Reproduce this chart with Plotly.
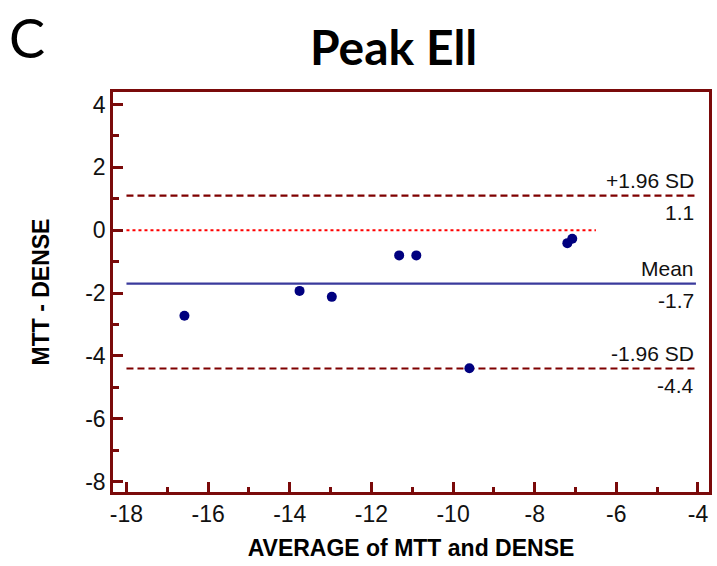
import plotly.graph_objects as go

# Bland-Altman data: average vs. difference of MTT and DENSE (peak Ell)
avg_vals = [-16.58, -13.76, -12.97, -11.32, -10.90, -9.60, -7.20, -7.08]
diff_vals = [-2.72, -1.93, -2.12, -0.80, -0.80, -4.39, -0.41, -0.27]

mean_diff = -1.7
upper_loa = 1.1
lower_loa = -4.4

x_ticks = [-18, -16, -14, -12, -10, -8, -6, -4]
y_ticks = [4, 2, 0, -2, -4, -6, -8]

axis_col = "#7a0a0a"
loa_col = "#7f0000"
mean_col = "#3a3a9c"
pt_col = "#00007f"
font_arial = "Liberation Sans, Arial, sans-serif"
font_head = "Lato, Open Sans, sans-serif"

line_x0, line_x1 = -18, -4.05
zero_x1 = -6.5

fig = go.Figure()

# zero reference (dotted red)
fig.add_trace(go.Scatter(x=[line_x0, zero_x1], y=[0, 0], mode="lines",
                         line=dict(color="#ff0000", width=2, dash="dot"),
                         hoverinfo="skip", showlegend=False))
# limits of agreement
for yv in (upper_loa, lower_loa):
    fig.add_trace(go.Scatter(x=[line_x0, line_x1], y=[yv, yv], mode="lines",
                             line=dict(color=loa_col, width=2.2, dash="7px,4px"),
                             hoverinfo="skip", showlegend=False))
# mean difference
fig.add_trace(go.Scatter(x=[line_x0, line_x1], y=[mean_diff, mean_diff], mode="lines",
                         line=dict(color=mean_col, width=2.4),
                         hoverinfo="skip", showlegend=False))
# observations
fig.add_trace(go.Scatter(x=avg_vals, y=diff_vals, mode="markers",
                         marker=dict(color=pt_col, size=10, line=dict(width=0)),
                         showlegend=False))

# line labels
labels = [("+1.96 SD", upper_loa, f"{upper_loa:.1f}"),
          ("Mean", mean_diff, f"{mean_diff:.1f}"),
          ("-1.96 SD", lower_loa, f"{lower_loa:.1f}")]
for top, yv, bottom in labels:
    fig.add_annotation(x=line_x1, y=yv, text=top, showarrow=False,
                       xanchor="right", yanchor="bottom", yshift=2,
                       font=dict(family=font_arial, size=21, color="#111111"))
    fig.add_annotation(x=line_x1, y=yv, text=bottom, showarrow=False,
                       xanchor="right", yanchor="top", yshift=-3,
                       font=dict(family=font_arial, size=21, color="#111111"))

# headings
fig.add_annotation(xref="paper", yref="paper", x=0.47, y=1.0, yshift=46,
                   text="<b>Peak Ell</b>", showarrow=False,
                   xanchor="center", yanchor="middle",
                   font=dict(family=font_head, size=48, color="#000000"))
fig.add_annotation(xref="paper", yref="paper", x=0, xshift=-106, y=1.0, yshift=55,
                   text="C", showarrow=False, xanchor="left", yanchor="middle",
                   font=dict(family=font_head, size=54, color="#000000"))

axis_common = dict(showline=True, mirror=True, linecolor=axis_col, linewidth=2.5,
                   ticks="inside", tickcolor=axis_col, tickwidth=2.5, ticklen=10,
                   showgrid=False, zeroline=False,
                   tickfont=dict(family=font_arial, size=23, color="#111111"))

fig.update_xaxes(range=[-18.33, -3.73], tickmode="array", tickvals=x_ticks,
                 ticktext=[str(v) for v in x_ticks],
                 minor=dict(ticks="inside", ticklen=5, tickwidth=2.5, tickcolor=axis_col,
                            dtick=1, tick0=-18, showgrid=False),
                 title=dict(text="<b>AVERAGE of MTT and DENSE</b>", standoff=14,
                            font=dict(family=font_arial, size=23, color="#000000")),
                 **axis_common)
fig.update_yaxes(range=[-8.33, 4.4], tickmode="array", tickvals=y_ticks,
                 ticktext=[str(v) for v in y_ticks],
                 minor=dict(ticks="inside", ticklen=6, tickwidth=2.5, tickcolor=axis_col,
                            dtick=1, tick0=-8, showgrid=False),
                 title=dict(text="<b>MTT - DENSE</b>", standoff=30,
                            font=dict(family=font_arial, size=23, color="#000000")),
                 **axis_common)

fig.update_layout(width=717, height=566,
                  margin=dict(l=113, r=5, t=92, b=74),
                  plot_bgcolor="white", paper_bgcolor="white")

fig.write_html("out.html")
